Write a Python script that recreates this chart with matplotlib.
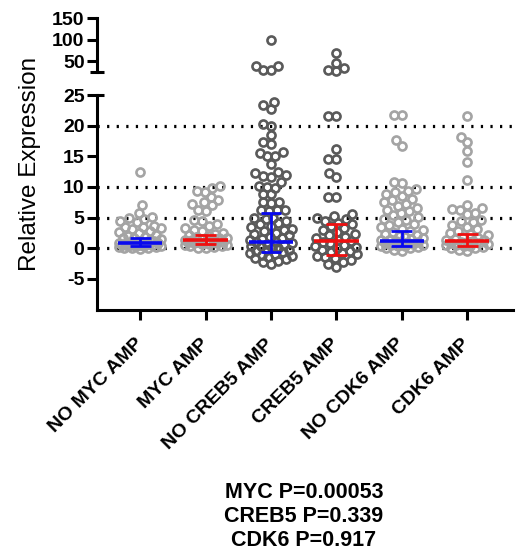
import numpy as np
import matplotlib

matplotlib.use("Agg")
import matplotlib.pyplot as plt

plt.rcParams["font.family"] = ["Liberation Sans", "DejaVu Sans"]
plt.rcParams["axes.unicode_minus"] = False

categories = ["NO MYC AMP", "MYC AMP", "NO CREB5 AMP", "CREB5 AMP", "NO CDK6 AMP", "CDK6 AMP"]

no_myc = [12.4, 7.0, 5.8, 5.1, 4.9, 4.8, 4.5, 4.3, 3.6, 3.5, 3.4, 3.3, 3.1, 2.8, 2.6, 2.5,
          2.2, 2.0, 1.9, 1.7, 1.6, 1.5, 1.3, 1.2, 1.1, 1.0, 0.9, 0.9, 0.8, 0.8, 0.7, 0.6,
          0.6, 0.5, 0.5, 0.4, 0.4, 0.3, 0.3, 0.2, 0.2, 0.1, 0.1, 0.0, -0.1]
myc = [10.1, 9.8, 9.4, 9.2, 8.3, 7.8, 7.5, 7.3, 7.0, 6.3, 6.1, 4.6, 4.4, 4.0, 3.6, 3.3,
       3.0, 2.8, 2.5, 2.3, 2.1, 2.0, 1.8, 1.7, 1.6, 1.5, 1.4, 1.3, 1.3, 1.2, 1.1, 1.0,
       1.0, 0.9, 0.8, 0.7, 0.7, 0.6, 0.5, 0.4, 0.3, 0.2, 0.1, 0.0]
no_creb5 = [100, 38, 38, 28, 28,
            23.9, 23.3, 22.7, 20.3, 20.0, 18.5, 17.3, 17.0, 15.7, 15.6, 15.1, 15.0, 13.8,
            12.4, 12.3, 11.9, 11.8, 11.7, 10.8, 10.1, 10.0, 9.9, 8.9, 8.8, 7.6, 7.5, 7.4,
            6.3, 6.2, 6.2, 6.1, 5.0, 4.9, 4.8, 4.4, 4.2, 3.9, 3.7, 3.5, 3.2, 3.0, 2.8, 2.5,
            2.3, 2.1, 1.9, 1.7, 1.5, 1.3, 1.1, 1.0, 0.9, 0.7, 0.6, 0.4, 0.3, 0.1, 0.0, -0.2,
            -0.3, -0.5, -0.6, -0.8, -0.9, -1.1, -1.2, -1.4, -1.6, -1.8, -2.0, -2.2, -2.5]
creb5 = [68, 46, 33, 29, 27,
         21.6, 21.5, 16.2, 14.6, 14.5, 12.2, 11.6, 8.3, 8.3, 5.6, 5.3, 5.0, 4.8, 4.5, 4.2,
         3.9, 3.6, 3.3, 3.0, 2.7, 2.4, 2.1, 1.8, 1.6, 1.4, 1.2, 1.0, 0.8, 0.6, 0.4, 0.2,
         0.0, -0.2, -0.4, -0.6, -0.8, -1.0, -1.2, -1.4, -1.6, -1.9, -2.2, -2.6, -3.0]
no_cdk6 = [21.8, 21.7, 17.6, 16.7, 10.8, 10.6, 9.6, 9.4, 9.2, 8.8, 8.5, 8.0, 7.8, 7.5, 7.2,
           6.9, 6.6, 6.3, 6.0, 5.7, 5.4, 5.1, 4.8, 4.6, 4.3, 4.0, 3.8, 3.5, 3.2, 3.0, 2.8,
           2.6, 2.4, 2.2, 2.0, 1.9, 1.7, 1.5, 1.4, 1.3, 1.2, 1.1, 1.0, 0.9, 0.8, 0.7, 0.6,
           0.5, 0.4, 0.3, 0.3, 0.2, 0.1, 0.0, -0.2, -0.4]
cdk6 = [21.6, 18.2, 17.3, 15.8, 14.0, 11.2, 7.1, 6.5, 6.4, 6.3, 5.7, 5.6, 4.6, 4.5, 4.3,
        3.8, 3.5, 3.1, 2.8, 2.5, 2.3, 2.1, 1.9, 1.7, 1.5, 1.4, 1.3, 1.2, 1.1, 1.0, 0.9,
        0.8, 0.7, 0.6, 0.5, 0.4, 0.3, 0.2, 0.1, 0.0, -0.2, -0.4]

medians = [0.8, 1.3, 1.0, 1.2, 1.2, 1.2]
iqr_low = [0.4, 0.65, -0.6, -1.15, 0.3, 0.3]
iqr_high = [1.75, 2.1, 5.7, 4.0, 2.9, 2.4]

p_values = ["MYC P=0.00053", "CREB5 P=0.339", "CDK6 P=0.917"]

groups = [no_myc, myc, no_creb5, creb5, no_cdk6, cdk6]
dot_colors = ["#a4a4a4", "#a4a4a4", "#5a5a5a", "#5a5a5a", "#a4a4a4", "#a4a4a4"]
stat_colors = ["#0a0aee", "#ee1010", "#0a0aee", "#ee1010", "#0a0aee", "#ee1010"]
BREAK = 25


def swarm_x(ax, center, values, diameter=8.0, half_width=21):
    # simple beeswarm in pixel space, width capped like the GraphPad layout
    vals = np.asarray(values, float)
    pts = ax.transData.transform(np.column_stack([np.full(len(vals), center), vals]))
    x0, ys = pts[0, 0], pts[:, 1]
    cands = np.arange(-half_width, half_width + 0.5, 0.5)
    cands = cands[np.argsort(np.abs(cands), kind="stable")]
    xs = np.zeros(len(vals))
    px, py = [], []
    for i in np.argsort(vals, kind="stable"):
        chosen, best_gap = None, -1.0
        fallback = 0.0
        for c in cands:
            gap = np.min(np.hypot(np.array(px) - c, np.array(py) - ys[i])) if px else np.inf
            if gap >= diameter:
                chosen = c
                break
            if gap > best_gap:
                best_gap, fallback = gap, c
        xs[i] = chosen if chosen is not None else fallback
        px.append(xs[i])
        py.append(ys[i])
    back = ax.transData.inverted().transform(np.column_stack([x0 + xs, ys]))
    return back[:, 0]


fig = plt.figure(figsize=(5.17, 5.5), dpi=100)
left, width = 97 / 517, 416 / 517
ax_top = fig.add_axes([left, 1 - 71.7 / 550, width, 53.4 / 550])
ax_bot = fig.add_axes([left, 1 - 309.6 / 550, width, 214.6 / 550])

xpos = np.arange(len(categories))
for ax in (ax_top, ax_bot):
    ax.set_xlim(-0.66, 5.70)
    ax.spines["top"].set_visible(False)
    ax.spines["right"].set_visible(False)
    ax.spines["left"].set_linewidth(2.2)
    ax.spines["bottom"].set_linewidth(2.2)
    ax.tick_params(axis="y", width=2.2, length=7, pad=2, labelsize=14)

ax_top.set_ylim(BREAK, 150)
ax_top.set_yticks([50, 100, 150])
ax_top.spines["bottom"].set_visible(False)
ax_top.set_xticks([])

ax_bot.set_ylim(-10, BREAK)
ax_bot.set_yticks([-5, 0, 5, 10, 15, 20, 25])
ax_bot.set_xticks(xpos)
ax_bot.tick_params(axis="x", width=2.2, length=7, pad=16)
ax_bot.set_xticklabels(categories, rotation=45, ha="right", va="center",
                       rotation_mode="anchor", fontsize=14, fontweight="bold")
for ax in (ax_top, ax_bot):
    for lab in ax.get_yticklabels():
        lab.set_fontweight("bold")

# break caps at the ends of the two segments
cap = 7 / 416
ax_top.plot([-cap, cap], [BREAK, BREAK], transform=ax_top.get_yaxis_transform(),
            color="black", lw=2.2, clip_on=False, solid_capstyle="butt")
ax_bot.plot([0, cap], [BREAK, BREAK], transform=ax_bot.get_yaxis_transform(),
            color="black", lw=2.2, clip_on=False, solid_capstyle="butt")

for y in [0, 5, 10, 20]:
    ax_bot.axhline(y, color="black", lw=2.3, ls=(0, (0.7, 2.3)), zorder=1)

fig.canvas.draw()
for i, vals in enumerate(groups):
    vals = np.asarray(vals, float)
    hi = vals[vals > BREAK]
    lo = vals[vals <= BREAK]
    for ax, part in ((ax_top, hi), (ax_bot, lo)):
        if len(part) == 0:
            continue
        xs = swarm_x(ax, xpos[i], part)
        ax.plot(xs, part, "o", ms=5.8, mfc="none", mec=dot_colors[i], mew=1.9,
                zorder=3, clip_on=False)

for i in range(len(categories)):
    ax_bot.hlines(medians[i], xpos[i] - 0.34, xpos[i] + 0.34, color=stat_colors[i], lw=2.6, zorder=5)
    ax_bot.vlines(xpos[i], iqr_low[i], iqr_high[i], color=stat_colors[i], lw=2.0, zorder=5)
    for q in (iqr_low[i], iqr_high[i]):
        ax_bot.hlines(q, xpos[i] - 0.16, xpos[i] + 0.16, color=stat_colors[i], lw=2.0, zorder=5)

fig.text(30 / 517, 1 - 164 / 550, "Relative Expression", rotation=90,
         ha="center", va="center", fontsize=17.5)

for k, line in enumerate(p_values):
    fig.text(304 / 517, 1 - (493 + 23.5 * k) / 550, line, ha="center", va="center",
             fontsize=15.5, fontweight="bold")

fig.savefig("out.png", dpi=100)
